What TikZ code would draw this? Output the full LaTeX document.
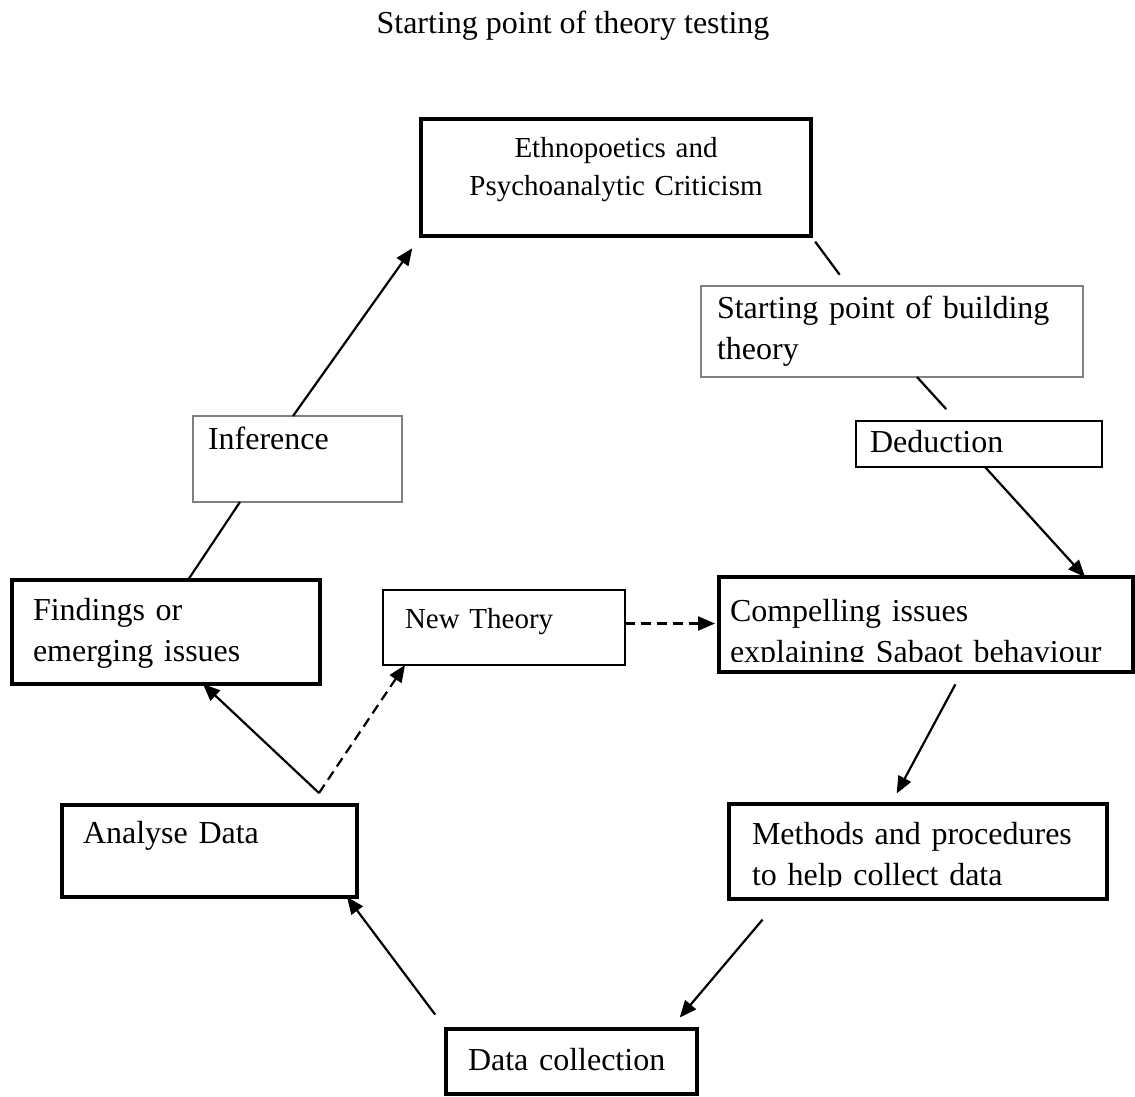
\documentclass[tikz,border=0pt]{standalone}
\usepackage{fontspec}
\setmainfont{Liberation Serif}
\usetikzlibrary{arrows.meta}

\begin{document}
\begin{tikzpicture}[x=1pt, y=-1pt,
    every node/.style={anchor=north west, inner ysep=0pt, outer sep=0pt, align=left, font=\fontsize{32}{41}\selectfont},
    thickbox/.style={draw, line width=3.3pt},
    thinbox/.style={draw=black!50, line width=1.2pt},
    smallfont/.style={font=\fontsize{29}{38}\selectfont},
    link/.style={line width=2.2pt},
    arr/.style={link, -{Triangle[length=17pt,width=14pt]}},
    dasharr/.style={arr, dash pattern=on 10pt off 6pt}]
      \useasboundingbox (0,0) rectangle (1135,1096);
      \node (title) at (573,33) [anchor=base, align=center] {Starting point of theory testing};
      \node (ethno) at (421,119) [thickbox, smallfont, align=center, inner xsep=10pt, text width=370pt, text height=38pt, text depth=79pt] {Ethnopoetics and\\Psychoanalytic Criticism};
      \node (build) at (701,286) [thinbox, inner xsep=16pt, text width=350pt, text height=32pt, text depth=59pt] {Starting point of building\\theory};
      \node (deduct) at (856,421) [draw, line width=1.4pt, inner xsep=14pt, text width=218pt, text height=31pt, text depth=15pt] {Deduction};
      \node (infer) at (193,416) [thinbox, inner xsep=15pt, text width=179pt, text height=33pt, text depth=53pt] {Inference};
      \node (find) at (12,580) [thickbox, inner xsep=21pt, text width=266pt, text height=40pt, text depth=64pt] {Findings or\\emerging issues};
      \node (newth) at (383,590) [draw, line width=2.8pt, smallfont, inner xsep=22pt, text width=198pt, text height=38pt, text depth=37pt] {New Theory};
      \begin{scope}
        \clip (719,577) rectangle (1133,661);
        \node (comp) at (719,577) [inner xsep=11pt, text width=392pt, text height=44pt, text depth=51pt] {Compelling issues\\explaining Sabaot behaviour};
      \end{scope}
      \draw[thickbox] (comp.north west) rectangle (comp.south east);
      \begin{scope}
        \clip (729,804) rectangle (1107,886);
        \node (meth) at (729,804) [inner xsep=23pt, text width=332pt, text height=40pt, text depth=55pt] {Methods and procedures\\to help collect data};
      \end{scope}
      \draw[thickbox] (meth.north west) rectangle (meth.south east);
      \node (anal) at (62,805) [thickbox, inner xsep=21pt, text width=253pt, text height=38pt, text depth=54pt] {Analyse Data};
      \node (dcol) at (446,1029) [thickbox, inner xsep=22pt, text width=207pt, text height=41pt, text depth=24pt] {Data collection};
      \coordinate (split) at ([xshift=257pt, yshift=12pt]anal.north west);
      \draw[link, shorten <=7pt, shorten >=14pt] (ethno.south east) -- ([xshift=147pt]build.north west);
      \draw[link, shorten >=16pt] ([xshift=216pt]build.south west) -- ([xshift=101pt]deduct.north west);
      \draw[arr] ([xshift=129pt]deduct.south west) -- ([xshift=366pt]comp.north west);
      \draw[arr, shorten <=14pt, shorten >=12pt] ([xshift=243pt]comp.south west) -- ([xshift=162pt]meth.north west);
      \draw[arr, shorten <=27pt, shorten >=15pt] ([xshift=51pt]meth.south west) -- ([xshift=224pt]dcol.north west);
      \draw[arr, shorten <=18pt] (dcol.north west) -- ([xshift=-10pt]anal.south east);
      \draw[arr] (split) -- ([xshift=-117pt]find.south east);
      \draw[dasharr] (split) -- ([xshift=22pt]newth.south west);
      \draw[dasharr, shorten >=4pt] ([yshift=4pt]newth.east) -- ([yshift=4pt]newth.east -| comp.west);
      \draw[link] ([xshift=176pt]find.north west) -- ([xshift=47pt]infer.south west);
      \draw[arr, shorten >=15pt] ([xshift=100pt]infer.north west) -- (ethno.south west);
    \end{tikzpicture}
\end{document}
